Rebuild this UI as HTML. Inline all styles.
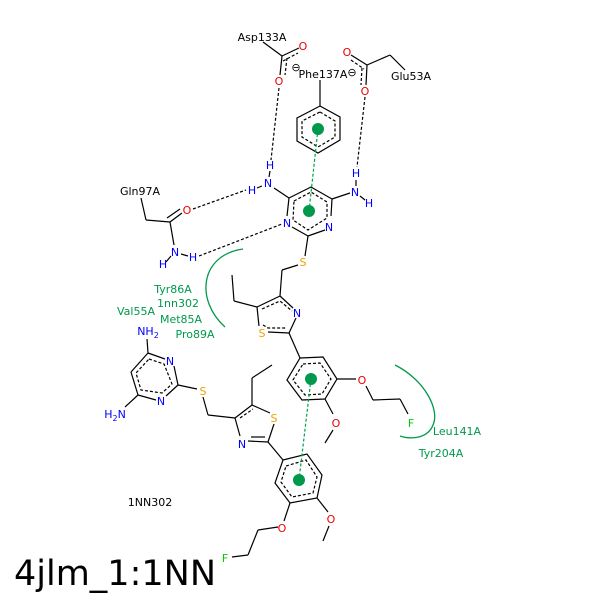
<!DOCTYPE html><html><head><style>body{margin:0;background:#fff}svg{display:block}text{font-family:"DejaVu Sans","Liberation Sans",sans-serif;font-size:11px}</style></head><body>
<svg width="600" height="600" viewBox="0 0 600 600" xmlns="http://www.w3.org/2000/svg">
<g stroke="#000" stroke-width="1.2" fill="none">
<line x1="263" y1="42" x2="282" y2="56"/><line x1="282" y1="56" x2="299" y2="48"/><line x1="283" y1="61" x2="298" y2="53" stroke-dasharray="3,2"/>
<line x1="282" y1="56" x2="280" y2="75"/><line x1="287" y1="58" x2="285" y2="75" stroke-dasharray="3,2"/>
<line x1="351" y1="55" x2="367" y2="65"/><line x1="351" y1="60" x2="364" y2="69" stroke-dasharray="3,2"/>
<line x1="367" y1="65" x2="366" y2="85"/><line x1="362" y1="68" x2="361" y2="85" stroke-dasharray="3,2"/>
<line x1="367" y1="65" x2="390" y2="55"/><line x1="390" y1="55" x2="405" y2="70"/>
<line x1="320" y1="80" x2="320" y2="106"/>
<polygon points="320,106 340,117 340,140 318,153 297,141 297,118"/>
<polygon points="320,112 335,121 335,137 318,147 302,137 302,121" stroke-dasharray="3,2"/>
<polyline points="289,198 311,187 332,199"/><line x1="332" y1="199" x2="331" y2="216"/><line x1="325" y1="230" x2="308" y2="236"/><line x1="308" y1="236" x2="292" y2="227"/><line x1="287" y1="216" x2="289" y2="198"/>
<polygon points="294,201 311,192 327,202 327,218 308,230 293,220" stroke-dasharray="3,2"/>
<line x1="289" y1="198" x2="274" y2="188"/><line x1="332" y1="199" x2="350" y2="193"/>
<line x1="269" y1="177" x2="270" y2="171"/><line x1="262" y1="186" x2="257" y2="188"/>
<line x1="356" y1="186" x2="356" y2="180"/><line x1="360" y1="196" x2="365" y2="200"/>
<line x1="308" y1="236" x2="305" y2="256"/><line x1="298" y1="265" x2="282" y2="270"/><line x1="282" y1="270" x2="280" y2="296"/>
<line x1="141" y1="198" x2="146" y2="220"/><line x1="146" y1="220" x2="170" y2="222"/><line x1="170" y1="222" x2="182" y2="213"/><line x1="167" y1="218" x2="180" y2="209"/><line x1="170" y1="222" x2="174" y2="245"/><line x1="171" y1="256" x2="166" y2="262"/><line x1="181" y1="254" x2="188" y2="256"/>
<line x1="280" y1="296" x2="293" y2="308"/><line x1="296" y1="318" x2="289" y2="333"/><line x1="289" y1="333" x2="268" y2="332"/><line x1="259" y1="326" x2="257" y2="307"/><line x1="257" y1="307" x2="280" y2="296"/>
<polyline points="262,309 280,301 292,311" stroke-dasharray="3,2"/><polyline points="263,325 268,328 286,328" stroke-dasharray="3,2"/>
<line x1="257" y1="307" x2="234" y2="301"/><line x1="234" y1="301" x2="232" y2="275"/>
<line x1="289" y1="333" x2="300" y2="358"/>
<polygon points="300,358 323,357 337,379 325,399 302,400 287,380"/>
<polygon points="303,364 320,363 331,379 322,394 305,395 293,380" stroke-dasharray="3,2"/>
<line x1="337" y1="379" x2="356" y2="379"/><line x1="366" y1="386" x2="373" y2="400"/><line x1="373" y1="400" x2="400" y2="399"/><line x1="400" y1="399" x2="408" y2="414"/>
<line x1="325" y1="399" x2="333" y2="414"/><line x1="333" y1="430" x2="325" y2="443"/>
<line x1="252" y1="405" x2="270" y2="413"/><line x1="274" y1="424" x2="268" y2="442"/><line x1="268" y1="442" x2="248" y2="441"/><line x1="240" y1="436" x2="235" y2="418"/><line x1="235" y1="418" x2="252" y2="405"/>
<polyline points="240,418 253,409" stroke-dasharray="3,2"/><line x1="251" y1="437" x2="265" y2="437"/>
<line x1="252" y1="405" x2="252" y2="378"/><line x1="252" y1="378" x2="272" y2="365"/>
<line x1="235" y1="418" x2="208" y2="415"/><line x1="208" y1="415" x2="203" y2="397"/><line x1="197" y1="389" x2="178" y2="385"/>
<line x1="268" y1="442" x2="283" y2="460"/>
<polygon points="283,460 307,454 322,475 317,498 290,503 275,483"/>
<polygon points="286,466 306,460 317,477 313,493 292,497 281,482" stroke-dasharray="3,2"/>
<line x1="317" y1="498" x2="328" y2="512"/><line x1="329" y1="526" x2="323" y2="541"/>
<line x1="290" y1="503" x2="284" y2="521"/><line x1="278" y1="527" x2="258" y2="530"/><line x1="258" y1="530" x2="248" y2="555"/><line x1="248" y1="555" x2="232" y2="557"/>
<line x1="148" y1="353" x2="165" y2="359"/><line x1="174" y1="366" x2="178" y2="385"/><line x1="178" y1="385" x2="166" y2="396"/><line x1="156" y1="400" x2="138" y2="395"/><line x1="138" y1="395" x2="131" y2="372"/><line x1="131" y1="372" x2="148" y2="353"/>
<polygon points="149,359 164,364 172,384 162,393 141,390 136,373" stroke-dasharray="3,2"/>
<line x1="148" y1="353" x2="147" y2="339"/><line x1="138" y1="395" x2="125" y2="407"/>
</g>
<g stroke="#000" stroke-width="1.2" stroke-dasharray="3,2" fill="none">
<line x1="279" y1="88" x2="271" y2="160"/><line x1="365" y1="97" x2="357" y2="167"/>
<line x1="193" y1="209" x2="246" y2="190"/><line x1="199" y1="256" x2="282" y2="224"/>
</g>
<g stroke="#00a050" stroke-width="1.2" stroke-dasharray="3,2"><line x1="318" y1="129" x2="309" y2="211"/><line x1="311" y1="379" x2="299" y2="480"/></g>
<g fill="#00994c"><circle cx="318" cy="129" r="6"/><circle cx="309" cy="211" r="6"/><circle cx="311" cy="379" r="6"/><circle cx="299" cy="480" r="6"/></g>
<g stroke="#00994c" stroke-width="1.3" fill="none"><path d="M243,249 C200,255 195,300 225,327"/><path d="M395,365 C425,380 440,410 433,425 C428,438 412,440 400,436"/></g>
<g text-anchor="middle">
<text x="262" y="41">Asp133A</text><text x="323" y="78">Phe137A</text><text x="411" y="80">Glu53A</text><text x="140" y="195">Gln97A</text>
<text x="150" y="506">1NN302</text>
<g fill="#e00"><text x="303" y="50">O</text><text x="279" y="85">O</text><text x="347" y="56">O</text><text x="365" y="95">O</text><text x="187" y="214">O</text><text x="362" y="384">O</text><text x="336" y="427">O</text><text x="331" y="523">O</text><text x="282" y="532">O</text></g>
<g fill="#00f"><text x="270" y="169">H</text><text x="268" y="187">N</text><text x="252" y="194">H</text><text x="356" y="177">H</text><text x="355" y="196">N</text><text x="369" y="207">H</text><text x="287" y="227">N</text><text x="329" y="231">N</text><text x="175" y="256">N</text><text x="163" y="268">H</text><text x="193" y="261">H</text><text x="297" y="317">N</text><text x="242" y="448">N</text><text x="170" y="365">N</text><text x="161" y="405">N</text><text x="148" y="335">NH<tspan font-size="8" dy="3">2</tspan></text><text x="115" y="418">H<tspan font-size="8" dy="3">2</tspan><tspan dy="-3">N</tspan></text></g>
<g fill="#f0a000"><text x="303" y="266">S</text><text x="262" y="337">S</text><text x="274" y="422">S</text><text x="203" y="395">S</text></g>
<g fill="#0c0"><text x="411" y="427">F</text><text x="225" y="562">F</text></g>
<g fill="#00994c"><text x="173" y="293">Tyr86A</text><text x="178" y="307">1nn302</text><text x="181" y="323">Met85A</text><text x="195" y="338">Pro89A</text><text x="136" y="315">Val55A</text><text x="457" y="435">Leu141A</text><text x="441" y="457">Tyr204A</text></g>
<text x="296" y="71" font-size="12">⊖</text><text x="352" y="76" font-size="12">⊖</text>
</g>
<text x="14" y="585" style="font-size:35px">4jlm_1:1NN</text>
</svg></body></html>
